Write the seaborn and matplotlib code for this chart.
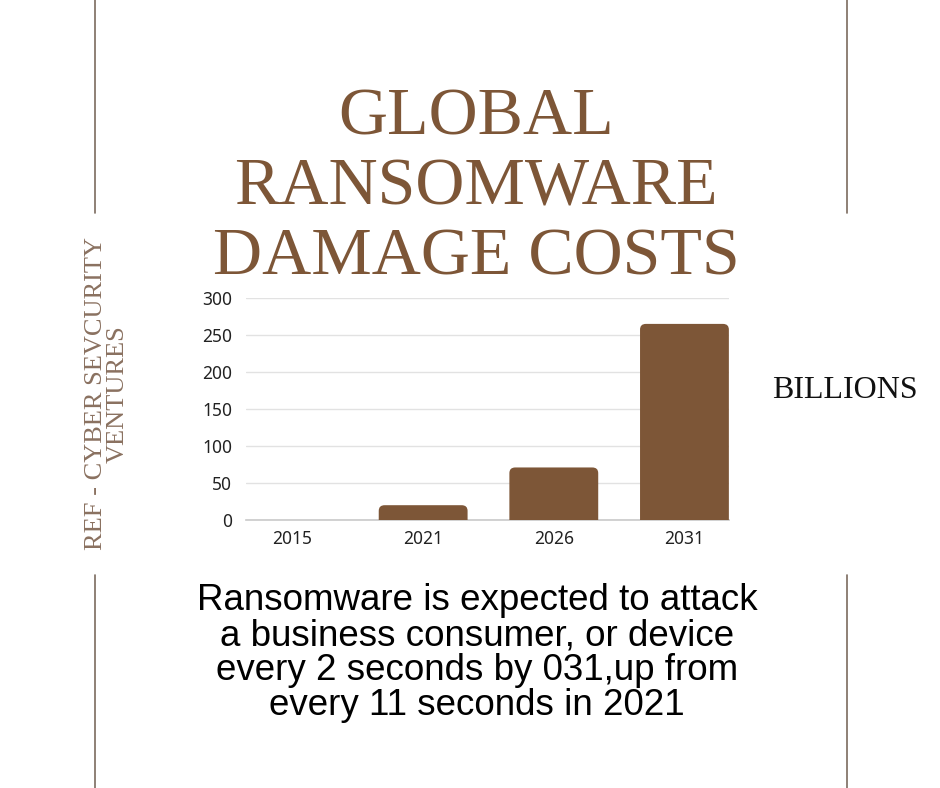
import matplotlib
matplotlib.use("Agg")
import matplotlib.pyplot as plt
from matplotlib.patches import FancyBboxPatch
import seaborn as sns
import pandas as pd

# data (billions USD)
years = ["2015", "2021", "2026", "2031"]
damage = [0.325, 20, 71, 265]
y_ticks = [0, 50, 100, 150, 200, 250, 300]

title = "GLOBAL\nRANSOMWARE\nDAMAGE COSTS"
source = "REF - CYBER SEVCURITY\nVENTURES"
unit = "BILLIONS"
note = ("Ransomware is expected to attack\na business consumer, or device\n"
        "every 2 seconds by 031,up from\nevery 11 seconds in 2021")

brown = "#7d5637"
line_col = "#7b6b5f"

sns.set_theme(style="white")
plt.rcParams['font.family'] = ['Noto Sans', 'DejaVu Sans']

df = pd.DataFrame({"year": years, "damage": damage})

fig = plt.figure(figsize=(9.4, 7.88), dpi=100)
fig.patch.set_facecolor("white")

# decorative frame lines
for x in (94.5 / 940, 846.5 / 940):
    fig.add_artist(plt.Line2D([x, x], [1, 1 - 213 / 788], color=line_col, lw=1.2))
    fig.add_artist(plt.Line2D([x, x], [1 - 575 / 788, 0], color=line_col, lw=1.2))

ax = fig.add_axes([246 / 940, 1 - 520 / 788, 483 / 940, 222 / 788])
sns.barplot(data=df, x="year", y="damage", color=brown, width=0.68,
            saturation=1, ax=ax)

# rounded top corners
ax.set_xlim(-0.356, 3.341)
ax.set_ylim(0, 300)
for p in list(ax.patches):
    x0, w, h = p.get_x(), p.get_width(), p.get_height()
    p.set_visible(False)
    if h < 1:
        continue
    rb = FancyBboxPatch((x0, -20), w, h + 20,
                        boxstyle="round,pad=0,rounding_size=0.045",
                        mutation_aspect=170, facecolor=brown,
                        edgecolor="none", zorder=3)
    ax.add_patch(rb)

ax.set_yticks(y_ticks)
ax.yaxis.grid(True, color="#e2e2e2", lw=1)
ax.set_axisbelow(True)
for s in ["top", "right", "left"]:
    ax.spines[s].set_visible(False)
ax.spines["bottom"].set_color("#c9c9c9")
ax.spines["bottom"].set_linewidth(1.2)
ax.tick_params(axis="both", length=0, labelsize=12.5, colors="#222222")
ax.tick_params(axis="y", pad=10)
ax.tick_params(axis="x", pad=7)
ax.set_xlabel("")
ax.set_ylabel("")

fig.text(476 / 940, 1 - 188 / 788, title, ha="center", va="center",
         fontsize=49, color=brown, family="Liberation Serif",
         linespacing=1.2)

fig.text(107 / 940, 1 - 394 / 788, source, ha="center", va="center",
         rotation=90, fontsize=19, color="#8a7160",
         family="Liberation Serif", linespacing=0.95)

fig.text(845 / 940, 1 - 390 / 788, unit, ha="center", va="center",
         fontsize=23, color="#111111", family="Liberation Serif")

fig.text(477 / 940, 1 - 653 / 788, note, ha="center", va="center",
         fontsize=26.5, color="black", family="Liberation Sans",
         linespacing=1.0)

fig.savefig("out.png", dpi=100, facecolor="white")
